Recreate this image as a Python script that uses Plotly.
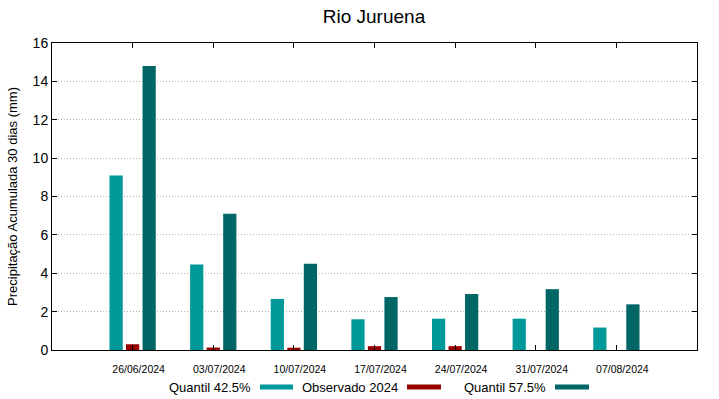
import plotly.graph_objects as go

datas = ["26/06/2024", "03/07/2024", "10/07/2024", "17/07/2024", "24/07/2024", "31/07/2024", "07/08/2024"]
quantil_425 = [9.1, 4.45, 2.66, 1.6, 1.63, 1.63, 1.17]
observado_2024 = [0.3, 0.13, 0.12, 0.2, 0.2, 0.0, 0.0]
quantil_575 = [14.8, 7.1, 4.5, 2.76, 2.92, 3.17, 2.38]
y_ticks = [0, 2, 4, 6, 8, 10, 12, 14, 16]

c1 = "#009999"
c2 = "#990000"
c3 = "#006666"

fig = go.Figure()
fig.add_trace(go.Bar(x=datas, y=quantil_425, name="Quantil 42.5%", marker=dict(color=c1, line=dict(width=0))))
fig.add_trace(go.Bar(x=datas, y=observado_2024, name="Observado 2024", marker=dict(color=c2, line=dict(width=0))))
fig.add_trace(go.Bar(x=datas, y=quantil_575, name="Quantil 57.5%", marker=dict(color=c3, line=dict(width=0))))

L, R, T, B = 52, 22, 43, 49
W, H = 719, 399
pw = W - L - R
ph = H - T - B

def px(x):
    return (x - L) / pw

def py(y):
    return (H - B - y) / ph

font = "Liberation Sans, Arial, sans-serif"

annotations = []
shapes = []
legend_items = [("Quantil 42.5%", 253, 260, 293, c1),
                ("Observado 2024", 400, 407, 441, c2),
                ("Quantil 57.5%", 548, 555, 589, c3)]
ly = 387
for txt, tend, s0, s1, col in legend_items:
    annotations.append(dict(text=txt, x=px(tend), y=py(ly), xref="paper", yref="paper",
                            xanchor="right", yanchor="middle", showarrow=False,
                            font=dict(size=13, color="#000000", family=font)))
    shapes.append(dict(type="rect", xref="paper", yref="paper",
                       x0=px(s0), x1=px(s1), y0=py(ly + 2.5), y1=py(ly - 2.5),
                       fillcolor=col, line=dict(width=0)))

fig.update_layout(
    width=W, height=H,
    margin=dict(l=L, r=R, t=T, b=B),
    paper_bgcolor="white", plot_bgcolor="white",
    barmode="group", bargap=0.385, bargroupgap=0.2,
    showlegend=False,
    title=dict(text="Rio Juruena", xref="container", x=374 / W, xanchor="center",
               y=1 - 16 / H, yanchor="middle",
               font=dict(size=19, color="#000000", family=font)),
    font=dict(family=font, color="#000000"),
    annotations=annotations,
    shapes=shapes,
)
fig.update_xaxes(
    type="category", range=[-1, 7], automargin=False,
    showline=True, linecolor="#000000", linewidth=1, mirror="ticks",
    ticks="inside", ticklen=5, tickcolor="#000000", tickwidth=1,
    showgrid=False, ticklabelshift=6, ticklabelstandoff=9,
    tickfont=dict(size=10.5, family=font, color="#000000"),
)
fig.update_yaxes(
    range=[0, 16], tickvals=y_ticks, automargin=False,
    showline=True, linecolor="#000000", linewidth=1, mirror="ticks",
    ticks="inside", ticklen=5, tickcolor="#000000", tickwidth=1,
    showgrid=True, gridcolor="#b0b0b0", griddash="1px,2px", gridwidth=1,
    zeroline=False,
    tickfont=dict(size=14, family=font, color="#000000"),
    title=dict(text="Precipitação Acumulada 30 dias (mm)", font=dict(size=13, family=font, color="#000000"), standoff=12),
)

fig.write_html("out.html", config={"displayModeBar": False},
               post_script="document.body.style.margin='0px';document.body.style.padding='0px';")
